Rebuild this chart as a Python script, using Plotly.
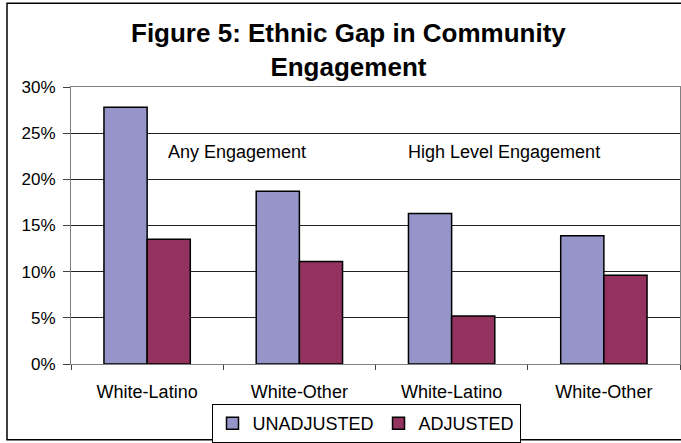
import plotly.graph_objects as go

categories = ["White-Latino", "White-Other", "White-Latino", "White-Other"]
unadjusted = [0.278, 0.187, 0.163, 0.139]
adjusted = [0.135, 0.111, 0.052, 0.096]
series_names = ["UNADJUSTED", "ADJUSTED"]
group_labels = ["Any Engagement", "High Level Engagement"]
y_ticks = [0, 0.05, 0.10, 0.15, 0.20, 0.25, 0.30]

W, H = 681, 443
L, R, T, B = 71, 1, 87, 78
pw, ph = W - L - R, H - T - B

def px_x(x):
    return (x - L) / pw

def px_y(y):
    return 1 - (y - T) / ph

FONT = "Arial, Liberation Sans, sans-serif"
xpos = list(range(len(categories)))

fig = go.Figure()
fig.add_trace(go.Bar(x=xpos, y=unadjusted, name=series_names[0],
                     marker=dict(color="#9595C9", line=dict(color="black", width=1.5))))
fig.add_trace(go.Bar(x=xpos, y=adjusted, name=series_names[1],
                     marker=dict(color="#93325F", line=dict(color="black", width=1.5))))

fig.update_layout(
    width=W, height=H,
    margin=dict(l=L, r=R, t=T, b=B),
    paper_bgcolor="white", plot_bgcolor="white",
    barmode="group", bargap=0.433, bargroupgap=0,
    font=dict(family=FONT, size=18, color="black"),
    showlegend=True,
    legend=dict(orientation="h", x=px_x(366), xanchor="center",
                y=px_y(404), yanchor="top",
                bordercolor="black", borderwidth=1, bgcolor="white",
                font=dict(size=18), itemwidth=30,
                traceorder="normal"),
    xaxis=dict(range=[-0.5, 3.5], tickmode="array", tickvals=xpos, ticktext=categories,
               ticks="", showgrid=False, showline=True, linecolor="#808080", linewidth=1,
               mirror=True, zeroline=False, ticklabelstandoff=11,
               tickfont=dict(size=18),
               minor=dict(tickmode="array", tickvals=[-0.5, 0.5, 1.5, 2.5, 3.5],
                          ticks="outside", ticklen=5, tickcolor="#404040", showgrid=False)),
    yaxis=dict(range=[0, 0.30], tickmode="array", tickvals=y_ticks, tickformat=".0%",
               ticks="outside", ticklen=7, tickcolor="#404040",
               showgrid=True, gridcolor="#222222", gridwidth=1,
               showline=True, linecolor="#808080", linewidth=1, mirror=True,
               zeroline=False, ticklabelstandoff=4, tickfont=dict(size=17)),
)

fig.add_annotation(text="<b>Figure 5: Ethnic Gap in Community<br>Engagement</b>",
                   xref="paper", yref="paper", x=px_x(348), y=px_y(50),
                   xanchor="center", yanchor="middle", showarrow=False,
                   font=dict(size=26, family=FONT, color="black"))
fig.add_annotation(text=group_labels[0], xref="paper", yref="paper",
                   x=px_x(236.5), y=px_y(152), xanchor="center", yanchor="middle",
                   showarrow=False, font=dict(size=18))
fig.add_annotation(text=group_labels[1], xref="paper", yref="paper",
                   x=px_x(503.5), y=px_y(152), xanchor="center", yanchor="middle",
                   showarrow=False, font=dict(size=18))

fig.add_shape(type="rect", xref="paper", yref="paper",
              x0=px_x(7), x1=px_x(720), y0=px_y(441), y1=px_y(3),
              line=dict(color="black", width=1.5), layer="below")

fig.write_html("out.html")
